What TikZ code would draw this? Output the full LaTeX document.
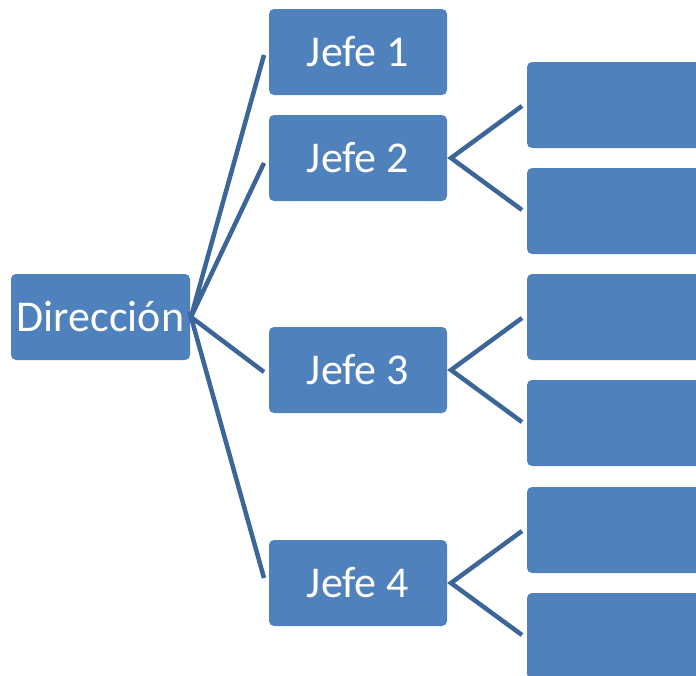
\documentclass[tikz,border=0pt]{standalone}
\usepackage{fontspec}
\setmainfont{Carlito}
\definecolor{boxblue}{RGB}{79,129,189}
\definecolor{linkblue}{RGB}{60,102,152}
\begin{document}
\begin{tikzpicture}[x=1pt,y=-1pt,
  orgbox/.style={fill=boxblue, rounded corners=5pt, minimum width=178pt,
    minimum height=86pt, inner sep=0pt, text=white,
    font=\fontsize{44}{48}\selectfont},
  link/.style={draw=linkblue, line width=4.5pt}]
\useasboundingbox (0,0) rectangle (696,675);
\clip (0,0) rectangle (696,675);
% top level
\node[orgbox, minimum width=179pt] (dir) at (100.5,317) {Dirección};
% second level
\node[orgbox] (j1) at (358,52)  {Jefe 1};
\node[orgbox] (j2) at (358,158) {Jefe 2};
\node[orgbox] (j3) at (358,370) {Jefe 3};
\node[orgbox] (j4) at (358,583) {Jefe 4};
% third level (running off the right edge)
\node[orgbox] (c21) at (616,105) {};
\node[orgbox] (c22) at (616,211) {};
\node[orgbox] (c31) at (616,317) {};
\node[orgbox] (c32) at (616,423) {};
\node[orgbox] (c41) at (616,530) {};
\node[orgbox] (c42) at (616,636) {};
% connector anchor points
\coordinate (hub) at (191,317);
\coordinate (e1) at (264,55);
\coordinate (e2) at (264,163);
\coordinate (e3) at (264,372);
\coordinate (e4) at (264,578);
\coordinate (h2) at (451,158);
\coordinate (h3) at (451,370);
\coordinate (h4) at (451,583);
\coordinate (f21) at (522,106);
\coordinate (f22) at (522,210);
\coordinate (f31) at (522,318);
\coordinate (f32) at (522,422);
\coordinate (f41) at (522,531);
\coordinate (f42) at (522,635);
% connectors
\draw[link] (e1) -- (hub) -- (e2);
\draw[link] (e3) -- (hub) -- (e4);
\draw[link] (f21) -- (h2) -- (f22);
\draw[link] (f31) -- (h3) -- (f32);
\draw[link] (f41) -- (h4) -- (f42);
\end{tikzpicture}
\end{document}
